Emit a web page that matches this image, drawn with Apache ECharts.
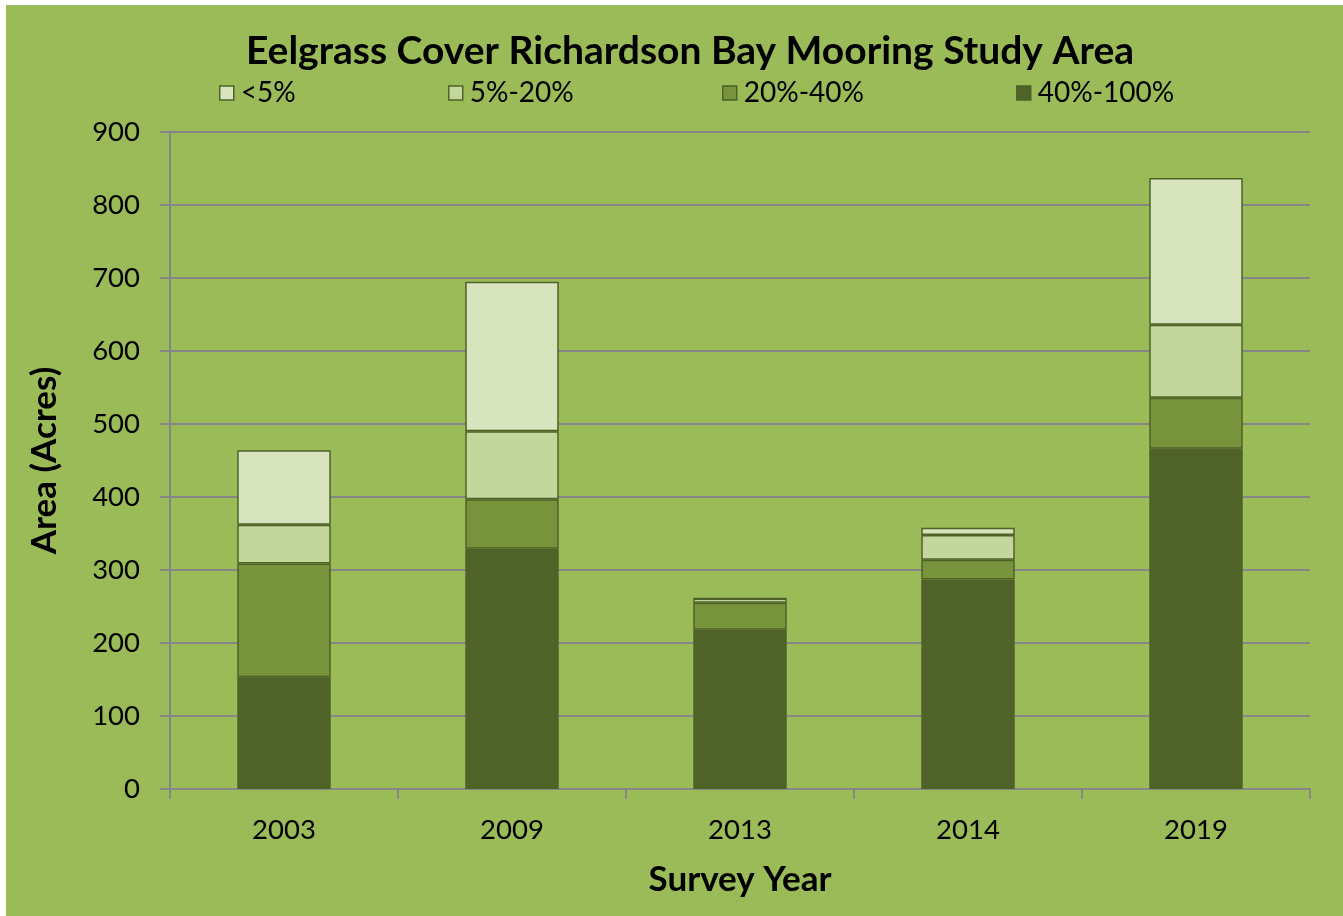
<!DOCTYPE html>
<html>
<head>
<meta charset="utf-8">
<script src="https://cdn.jsdelivr.net/npm/echarts@6/dist/echarts.min.js"></script>
<style>
  html, body { margin: 0; padding: 0; background: #ffffff; }
  #chart { position: absolute; left: 6px; top: 5px; width: 1337px; height: 911px; }
</style>
</head>
<body>
<div id="chart"></div>
<script>
const categories = ['2003', '2009', '2013', '2014', '2019'];
const seriesNames = ['<5%', '5%-20%', '20%-40%', '40%-100%'];
const dense40to100 = [153, 329, 218, 287, 466];
const cover20to40 = [156, 68, 37, 27, 70];
const cover5to20 = [53, 93, 6, 34, 100];
const under5 = [102, 205, 0, 10, 201];
const yTicks = { min: 0, max: 900, interval: 100 };
const colors = { '<5%': '#D7E4BD', '5%-20%': '#C3D69B', '20%-40%': '#77933C', '40%-100%': '#4F6228' };

const FONT = 'Lato';
const chart = echarts.init(document.getElementById('chart'));

function mkSeries(name, data) {
  return {
    name: name, type: 'bar', stack: 'total', data: data,
    barCategoryGap: '59%',
    itemStyle: { color: colors[name], borderColor: '#4F6228', borderWidth: 1.5 },
    emphasis: { disabled: true }
  };
}
function mkLegend(name, left) {
  return {
    data: [name], left: left, top: 74, padding: 0, itemWidth: 14, itemHeight: 14, itemGap: 0,
    icon: 'rect', selectedMode: false,
    itemStyle: { borderColor: '#4F6228', borderWidth: 1.5 },
    textStyle: { fontFamily: FONT, fontSize: 28, color: '#000', padding: [0, 0, 0, 2] }
  };
}

chart.setOption({
  backgroundColor: '#9BBB59',
  animation: false,
  title: {
    text: 'Eelgrass Cover Richardson Bay Mooring Study Area',
    left: 679, top: 22, textAlign: 'center',
    textStyle: { fontFamily: FONT, fontSize: 39, fontWeight: 'bold', color: '#000' }
  },
  legend: [
    mkLegend('<5%', 213),
    mkLegend('5%-20%', 442),
    mkLegend('20%-40%', 716),
    mkLegend('40%-100%', 1010)
  ],
  grid: { left: 164, top: 127, right: 33, bottom: 127, containLabel: false },
  xAxis: {
    type: 'category', data: categories,
    name: 'Survey Year', nameLocation: 'middle', nameGap: 73,
    nameTextStyle: { fontFamily: FONT, fontSize: 35, fontWeight: 'bold', color: '#000' },
    axisLine: { lineStyle: { color: '#868686', width: 2 } },
    axisTick: { show: true, length: 10, lineStyle: { color: '#868686', width: 2 } },
    axisLabel: { fontFamily: FONT, fontSize: 27.5, color: '#000', margin: 27 }
  },
  yAxis: {
    type: 'value', min: yTicks.min, max: yTicks.max, interval: yTicks.interval,
    name: 'Area (Acres)', nameLocation: 'middle', nameGap: 108, nameRotate: 90,
    nameTextStyle: { fontFamily: FONT, fontSize: 35, fontWeight: 'bold', color: '#000' },
    axisLine: { show: true, lineStyle: { color: '#868686', width: 2 } },
    axisTick: { show: true, length: 10, lineStyle: { color: '#868686', width: 2 } },
    splitLine: { show: true, lineStyle: { color: '#868686', width: 2 } },
    axisLabel: { fontFamily: FONT, fontSize: 27.5, color: '#000', margin: 30 }
  },
  series: [
    mkSeries('40%-100%', dense40to100),
    mkSeries('20%-40%', cover20to40),
    mkSeries('5%-20%', cover5to20),
    mkSeries('<5%', under5)
  ]
});
</script>
</body>
</html>
